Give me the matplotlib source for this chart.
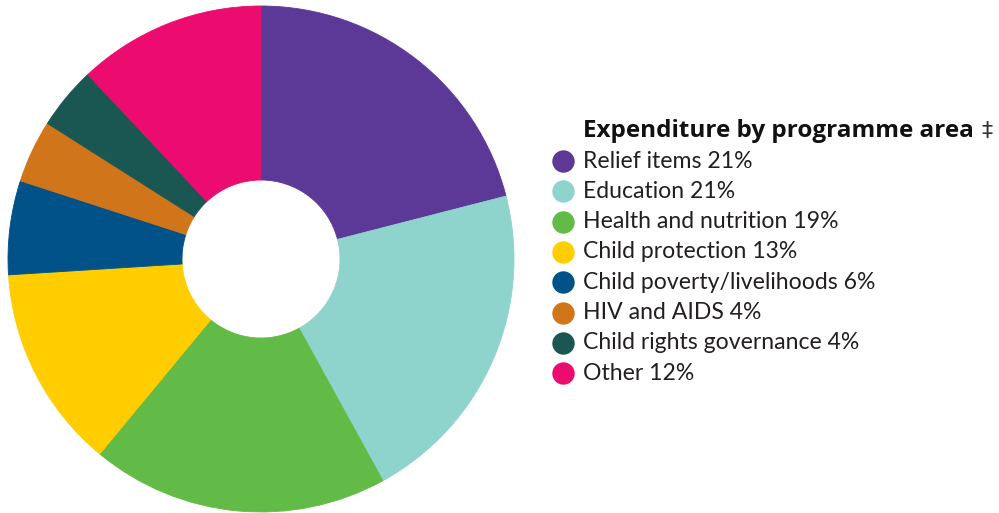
import matplotlib.pyplot as plt

categories = [
    "Relief items",
    "Education",
    "Health and nutrition",
    "Child protection",
    "Child poverty/livelihoods",
    "HIV and AIDS",
    "Child rights governance",
    "Other",
]
shares = [21, 21, 19, 13, 6, 4, 4, 12]
colors = ["#5C3996", "#8FD4CC", "#62BB46", "#FFCD00", "#005288", "#D07519", "#1A5753", "#EC0B6E"]
title = "Expenditure by programme area"

W, H = 999, 513
fig = plt.figure(figsize=(W / 100, H / 100), dpi=100)

# donut: centre (261, 259) px, outer radius 253 px, hole radius 79 px
cx, cy, r = 261, 259, 253
ax = fig.add_axes([(cx - r) / W, (H - cy - r) / H, 2 * r / W, 2 * r / H])
wedges, _ = ax.pie(
    shares,
    colors=colors,
    startangle=90,
    counterclock=False,
    radius=1.0,
    wedgeprops={"width": 1 - 79 / r, "linewidth": 0.6},
)
for w in wedges:
    w.set_edgecolor(w.get_facecolor())
ax.set_xlim(-1, 1)
ax.set_ylim(-1, 1)
ax.set_aspect("equal")
ax.axis("off")

# legend drawn in pixel coordinates
lax = fig.add_axes([0, 0, 1, 1])
lax.set_xlim(0, W)
lax.set_ylim(H, 0)
lax.axis("off")

t = lax.text(583, 131, title, fontsize=17.5, fontweight="bold",
             family=["Open Sans", "DejaVu Sans"],
             va="center", ha="left", color="#111111")
fig.canvas.draw()
bb = t.get_window_extent()
lax.text(bb.x1 + 7, 131, "\u2021", fontsize=16, family=["DejaVu Sans"],
         va="center", ha="left", color="#333333")

y0, step = 161, 30.3
for i, (name, val, col) in enumerate(zip(categories, shares, colors)):
    y = y0 + i * step
    lax.scatter([563], [y], s=260, color=col, linewidths=0)
    lax.text(583, y, f"{name} {val}%", fontsize=16.6, family=["Lato", "DejaVu Sans"],
             va="center", ha="left", color="#231F20")

fig.savefig("out.png", dpi=100)
